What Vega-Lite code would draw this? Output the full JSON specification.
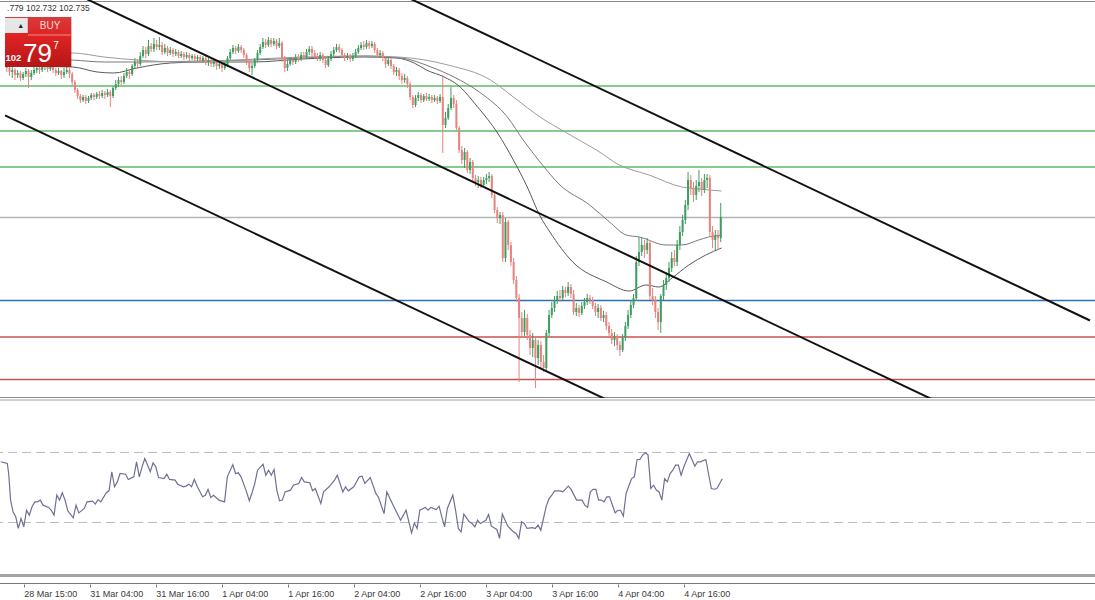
{
"$schema":"https://vega.github.io/schema/vega-lite/v6.json",
"padding":0,
"spacing":0,
"background":"white",
"config":{"view":{"stroke":null}},
"resolve":{"scale":{"x":"independent","y":"independent"}},
"datasets":{
"candles":[
{"t":-8,"o":104.26,"h":104.30,"l":104.18,"c":104.22},
{"t":-7,"o":104.22,"h":104.25,"l":104.14,"c":104.18},
{"t":-6,"o":104.18,"h":104.24,"l":104.12,"c":104.20},
{"t":-5,"o":104.20,"h":104.22,"l":104.10,"c":104.15},
{"t":-4,"o":104.15,"h":104.20,"l":104.12,"c":104.17},
{"t":-3,"o":104.17,"h":104.19,"l":104.09,"c":104.12},
{"t":-2,"o":104.12,"h":104.18,"l":104.10,"c":104.16},
{"t":-1,"o":104.16,"h":104.22,"l":104.13,"c":104.19},
{"t":0,"o":104.19,"h":104.21,"l":104.02,"c":104.13},
{"t":1,"o":104.13,"h":104.20,"l":104.10,"c":104.17},
{"t":2,"o":104.17,"h":104.24,"l":104.15,"c":104.20},
{"t":3,"o":104.20,"h":104.26,"l":104.17,"c":104.22},
{"t":4,"o":104.22,"h":104.25,"l":104.16,"c":104.20},
{"t":5,"o":104.20,"h":104.27,"l":104.18,"c":104.23},
{"t":6,"o":104.23,"h":104.28,"l":104.20,"c":104.24},
{"t":7,"o":104.24,"h":104.26,"l":104.18,"c":104.21},
{"t":8,"o":104.21,"h":104.26,"l":104.19,"c":104.23},
{"t":9,"o":104.23,"h":104.25,"l":104.17,"c":104.20},
{"t":10,"o":104.20,"h":104.22,"l":104.14,"c":104.17},
{"t":11,"o":104.17,"h":104.22,"l":104.15,"c":104.19},
{"t":12,"o":104.19,"h":104.20,"l":104.11,"c":104.15},
{"t":13,"o":104.15,"h":104.22,"l":104.12,"c":104.18},
{"t":14,"o":104.18,"h":104.24,"l":104.16,"c":104.20},
{"t":15,"o":104.20,"h":104.22,"l":104.12,"c":104.16},
{"t":16,"o":104.16,"h":104.18,"l":104.05,"c":104.08},
{"t":17,"o":104.08,"h":104.10,"l":103.97,"c":104.00},
{"t":18,"o":104.00,"h":104.02,"l":103.91,"c":103.94},
{"t":19,"o":103.94,"h":103.96,"l":103.87,"c":103.90},
{"t":20,"o":103.90,"h":103.95,"l":103.88,"c":103.93},
{"t":21,"o":103.93,"h":103.95,"l":103.86,"c":103.89},
{"t":22,"o":103.89,"h":103.94,"l":103.87,"c":103.92},
{"t":23,"o":103.92,"h":103.97,"l":103.90,"c":103.95},
{"t":24,"o":103.95,"h":103.97,"l":103.90,"c":103.93},
{"t":25,"o":103.93,"h":103.98,"l":103.91,"c":103.96},
{"t":26,"o":103.96,"h":103.99,"l":103.91,"c":103.94},
{"t":27,"o":103.94,"h":104.00,"l":103.92,"c":103.97},
{"t":28,"o":103.97,"h":103.99,"l":103.91,"c":103.95},
{"t":29,"o":103.95,"h":104.01,"l":103.93,"c":103.98},
{"t":30,"o":103.98,"h":104.00,"l":103.83,"c":103.94},
{"t":31,"o":103.94,"h":104.04,"l":103.92,"c":104.02},
{"t":32,"o":104.02,"h":104.10,"l":104.00,"c":104.06},
{"t":33,"o":104.06,"h":104.13,"l":104.03,"c":104.10},
{"t":34,"o":104.10,"h":104.14,"l":104.05,"c":104.08},
{"t":35,"o":104.08,"h":104.17,"l":104.06,"c":104.14},
{"t":36,"o":104.14,"h":104.22,"l":104.12,"c":104.18},
{"t":37,"o":104.18,"h":104.21,"l":104.11,"c":104.16},
{"t":38,"o":104.16,"h":104.26,"l":104.14,"c":104.24},
{"t":39,"o":104.24,"h":104.32,"l":104.22,"c":104.28},
{"t":40,"o":104.28,"h":104.31,"l":104.21,"c":104.26},
{"t":41,"o":104.26,"h":104.38,"l":104.24,"c":104.34},
{"t":42,"o":104.34,"h":104.44,"l":104.32,"c":104.40},
{"t":43,"o":104.40,"h":104.43,"l":104.32,"c":104.36},
{"t":44,"o":104.36,"h":104.50,"l":104.34,"c":104.44},
{"t":45,"o":104.44,"h":104.47,"l":104.38,"c":104.41},
{"t":46,"o":104.41,"h":104.52,"l":104.38,"c":104.46},
{"t":47,"o":104.46,"h":104.50,"l":104.40,"c":104.43},
{"t":48,"o":104.43,"h":104.53,"l":104.40,"c":104.45},
{"t":49,"o":104.45,"h":104.48,"l":104.35,"c":104.38},
{"t":50,"o":104.38,"h":104.46,"l":104.36,"c":104.42},
{"t":51,"o":104.42,"h":104.44,"l":104.34,"c":104.37},
{"t":52,"o":104.37,"h":104.43,"l":104.35,"c":104.40},
{"t":53,"o":104.40,"h":104.42,"l":104.33,"c":104.36},
{"t":54,"o":104.36,"h":104.41,"l":104.34,"c":104.38},
{"t":55,"o":104.38,"h":104.40,"l":104.32,"c":104.34},
{"t":56,"o":104.34,"h":104.39,"l":104.32,"c":104.36},
{"t":57,"o":104.36,"h":104.38,"l":104.30,"c":104.33},
{"t":58,"o":104.33,"h":104.38,"l":104.31,"c":104.35},
{"t":59,"o":104.35,"h":104.37,"l":104.29,"c":104.32},
{"t":60,"o":104.32,"h":104.36,"l":104.30,"c":104.34},
{"t":61,"o":104.34,"h":104.36,"l":104.28,"c":104.31},
{"t":62,"o":104.31,"h":104.35,"l":104.29,"c":104.33},
{"t":63,"o":104.33,"h":104.35,"l":104.27,"c":104.29},
{"t":64,"o":104.29,"h":104.34,"l":104.27,"c":104.32},
{"t":65,"o":104.32,"h":104.34,"l":104.25,"c":104.28},
{"t":66,"o":104.28,"h":104.32,"l":104.24,"c":104.30},
{"t":67,"o":104.30,"h":104.32,"l":104.23,"c":104.26},
{"t":68,"o":104.26,"h":104.31,"l":104.23,"c":104.28},
{"t":69,"o":104.28,"h":104.30,"l":104.20,"c":104.24},
{"t":70,"o":104.24,"h":104.29,"l":104.21,"c":104.26},
{"t":71,"o":104.26,"h":104.28,"l":104.18,"c":104.22},
{"t":72,"o":104.22,"h":104.28,"l":104.20,"c":104.25},
{"t":73,"o":104.25,"h":104.34,"l":104.23,"c":104.32},
{"t":74,"o":104.32,"h":104.41,"l":104.30,"c":104.38},
{"t":75,"o":104.38,"h":104.45,"l":104.36,"c":104.42},
{"t":76,"o":104.42,"h":104.44,"l":104.36,"c":104.39},
{"t":77,"o":104.39,"h":104.46,"l":104.37,"c":104.43},
{"t":78,"o":104.43,"h":104.45,"l":104.37,"c":104.40},
{"t":79,"o":104.40,"h":104.42,"l":104.32,"c":104.35},
{"t":80,"o":104.35,"h":104.37,"l":104.25,"c":104.28},
{"t":81,"o":104.28,"h":104.30,"l":104.18,"c":104.22},
{"t":82,"o":104.22,"h":104.27,"l":104.15,"c":104.24},
{"t":83,"o":104.24,"h":104.32,"l":104.22,"c":104.30},
{"t":84,"o":104.30,"h":104.40,"l":104.28,"c":104.37},
{"t":85,"o":104.37,"h":104.46,"l":104.35,"c":104.43},
{"t":86,"o":104.43,"h":104.52,"l":104.41,"c":104.48},
{"t":87,"o":104.48,"h":104.51,"l":104.42,"c":104.45},
{"t":88,"o":104.45,"h":104.53,"l":104.43,"c":104.50},
{"t":89,"o":104.50,"h":104.52,"l":104.43,"c":104.46},
{"t":90,"o":104.46,"h":104.52,"l":104.44,"c":104.49},
{"t":91,"o":104.49,"h":104.51,"l":104.41,"c":104.44},
{"t":92,"o":104.44,"h":104.52,"l":104.42,"c":104.47},
{"t":93,"o":104.47,"h":104.49,"l":104.28,"c":104.32},
{"t":94,"o":104.32,"h":104.34,"l":104.18,"c":104.22},
{"t":95,"o":104.22,"h":104.30,"l":104.19,"c":104.26},
{"t":96,"o":104.26,"h":104.33,"l":104.24,"c":104.30},
{"t":97,"o":104.30,"h":104.33,"l":104.25,"c":104.28},
{"t":98,"o":104.28,"h":104.36,"l":104.26,"c":104.33},
{"t":99,"o":104.33,"h":104.36,"l":104.28,"c":104.31},
{"t":100,"o":104.31,"h":104.38,"l":104.29,"c":104.35},
{"t":101,"o":104.35,"h":104.38,"l":104.30,"c":104.33},
{"t":102,"o":104.33,"h":104.41,"l":104.31,"c":104.38},
{"t":103,"o":104.38,"h":104.44,"l":104.35,"c":104.41},
{"t":104,"o":104.41,"h":104.44,"l":104.34,"c":104.37},
{"t":105,"o":104.37,"h":104.40,"l":104.31,"c":104.34},
{"t":106,"o":104.34,"h":104.37,"l":104.29,"c":104.32},
{"t":107,"o":104.32,"h":104.38,"l":104.29,"c":104.35},
{"t":108,"o":104.35,"h":104.37,"l":104.27,"c":104.30},
{"t":109,"o":104.30,"h":104.33,"l":104.22,"c":104.25},
{"t":110,"o":104.25,"h":104.34,"l":104.23,"c":104.31},
{"t":111,"o":104.31,"h":104.39,"l":104.29,"c":104.36},
{"t":112,"o":104.36,"h":104.43,"l":104.34,"c":104.40},
{"t":113,"o":104.40,"h":104.46,"l":104.38,"c":104.43},
{"t":114,"o":104.43,"h":104.46,"l":104.37,"c":104.40},
{"t":115,"o":104.40,"h":104.42,"l":104.32,"c":104.35},
{"t":116,"o":104.35,"h":104.37,"l":104.29,"c":104.32},
{"t":117,"o":104.32,"h":104.37,"l":104.30,"c":104.34},
{"t":118,"o":104.34,"h":104.36,"l":104.28,"c":104.31},
{"t":119,"o":104.31,"h":104.37,"l":104.29,"c":104.34},
{"t":120,"o":104.34,"h":104.41,"l":104.32,"c":104.38},
{"t":121,"o":104.38,"h":104.45,"l":104.36,"c":104.42},
{"t":122,"o":104.42,"h":104.48,"l":104.40,"c":104.45},
{"t":123,"o":104.45,"h":104.49,"l":104.40,"c":104.43},
{"t":124,"o":104.43,"h":104.50,"l":104.41,"c":104.47},
{"t":125,"o":104.47,"h":104.49,"l":104.41,"c":104.44},
{"t":126,"o":104.44,"h":104.49,"l":104.42,"c":104.46},
{"t":127,"o":104.46,"h":104.48,"l":104.37,"c":104.40},
{"t":128,"o":104.40,"h":104.42,"l":104.32,"c":104.35},
{"t":129,"o":104.35,"h":104.40,"l":104.32,"c":104.37},
{"t":130,"o":104.37,"h":104.39,"l":104.29,"c":104.32},
{"t":131,"o":104.32,"h":104.34,"l":104.22,"c":104.26},
{"t":132,"o":104.26,"h":104.33,"l":104.24,"c":104.30},
{"t":133,"o":104.30,"h":104.32,"l":104.21,"c":104.24},
{"t":134,"o":104.24,"h":104.26,"l":104.15,"c":104.18},
{"t":135,"o":104.18,"h":104.23,"l":104.14,"c":104.20},
{"t":136,"o":104.20,"h":104.22,"l":104.10,"c":104.14},
{"t":137,"o":104.14,"h":104.17,"l":104.06,"c":104.10},
{"t":138,"o":104.10,"h":104.16,"l":104.07,"c":104.12},
{"t":139,"o":104.12,"h":104.14,"l":104.02,"c":104.06},
{"t":140,"o":104.06,"h":104.08,"l":103.90,"c":103.93},
{"t":141,"o":103.93,"h":103.95,"l":103.82,"c":103.85},
{"t":142,"o":103.85,"h":103.95,"l":103.83,"c":103.92},
{"t":143,"o":103.92,"h":103.98,"l":103.89,"c":103.95},
{"t":144,"o":103.95,"h":103.97,"l":103.87,"c":103.90},
{"t":145,"o":103.90,"h":103.96,"l":103.88,"c":103.94},
{"t":146,"o":103.94,"h":103.97,"l":103.89,"c":103.91},
{"t":147,"o":103.91,"h":103.96,"l":103.89,"c":103.93},
{"t":148,"o":103.93,"h":103.95,"l":103.87,"c":103.90},
{"t":149,"o":103.90,"h":103.95,"l":103.88,"c":103.92},
{"t":150,"o":103.92,"h":103.94,"l":103.86,"c":103.89},
{"t":151,"o":103.89,"h":103.96,"l":103.87,"c":103.93},
{"t":152,"o":103.93,"h":104.15,"l":103.37,"c":103.65},
{"t":153,"o":103.65,"h":103.78,"l":103.62,"c":103.72},
{"t":154,"o":103.72,"h":103.86,"l":103.70,"c":103.82},
{"t":155,"o":103.82,"h":104.03,"l":103.80,"c":103.92},
{"t":156,"o":103.92,"h":103.95,"l":103.82,"c":103.86},
{"t":157,"o":103.86,"h":103.90,"l":103.60,"c":103.62},
{"t":158,"o":103.62,"h":103.64,"l":103.37,"c":103.40},
{"t":159,"o":103.40,"h":103.44,"l":103.26,"c":103.30},
{"t":160,"o":103.30,"h":103.42,"l":103.22,"c":103.38},
{"t":161,"o":103.38,"h":103.40,"l":103.17,"c":103.20},
{"t":162,"o":103.20,"h":103.32,"l":103.16,"c":103.28},
{"t":163,"o":103.28,"h":103.30,"l":103.08,"c":103.12},
{"t":164,"o":103.12,"h":103.15,"l":103.04,"c":103.08},
{"t":165,"o":103.08,"h":103.14,"l":103.02,"c":103.10},
{"t":166,"o":103.10,"h":103.13,"l":103.02,"c":103.05},
{"t":167,"o":103.05,"h":103.13,"l":103.03,"c":103.10},
{"t":168,"o":103.10,"h":103.16,"l":103.06,"c":103.12},
{"t":169,"o":103.12,"h":103.18,"l":103.08,"c":103.14},
{"t":170,"o":103.14,"h":103.16,"l":102.92,"c":102.95},
{"t":171,"o":102.95,"h":102.97,"l":102.77,"c":102.80},
{"t":172,"o":102.80,"h":102.83,"l":102.67,"c":102.72},
{"t":173,"o":102.72,"h":102.78,"l":102.66,"c":102.75},
{"t":174,"o":102.75,"h":102.78,"l":102.28,"c":102.32},
{"t":175,"o":102.32,"h":102.72,"l":102.28,"c":102.68},
{"t":176,"o":102.68,"h":102.70,"l":102.40,"c":102.45},
{"t":177,"o":102.45,"h":102.48,"l":102.24,"c":102.28},
{"t":178,"o":102.28,"h":102.32,"l":102.06,"c":102.10},
{"t":179,"o":102.10,"h":102.14,"l":101.88,"c":101.92},
{"t":180,"o":101.92,"h":101.96,"l":101.08,"c":101.72},
{"t":181,"o":101.72,"h":101.78,"l":101.52,"c":101.58},
{"t":182,"o":101.58,"h":101.80,"l":101.54,"c":101.72},
{"t":183,"o":101.72,"h":101.76,"l":101.50,"c":101.55},
{"t":184,"o":101.55,"h":101.60,"l":101.35,"c":101.42},
{"t":185,"o":101.42,"h":101.57,"l":101.33,"c":101.50},
{"t":186,"o":101.50,"h":101.54,"l":101.02,"c":101.32},
{"t":187,"o":101.32,"h":101.50,"l":101.25,"c":101.45},
{"t":188,"o":101.45,"h":101.49,"l":101.22,"c":101.28},
{"t":189,"o":101.28,"h":101.35,"l":101.18,"c":101.22},
{"t":190,"o":101.22,"h":101.60,"l":101.18,"c":101.57},
{"t":191,"o":101.57,"h":101.80,"l":101.54,"c":101.75},
{"t":192,"o":101.75,"h":101.88,"l":101.72,"c":101.82},
{"t":193,"o":101.82,"h":101.94,"l":101.78,"c":101.90},
{"t":194,"o":101.90,"h":101.99,"l":101.86,"c":101.94},
{"t":195,"o":101.94,"h":102.00,"l":101.88,"c":101.92},
{"t":196,"o":101.92,"h":102.04,"l":101.90,"c":102.00},
{"t":197,"o":102.00,"h":102.03,"l":101.93,"c":101.97},
{"t":198,"o":101.97,"h":102.08,"l":101.94,"c":102.03},
{"t":199,"o":102.03,"h":102.06,"l":101.92,"c":101.96},
{"t":200,"o":101.96,"h":102.00,"l":101.75,"c":101.78},
{"t":201,"o":101.78,"h":101.87,"l":101.74,"c":101.82},
{"t":202,"o":101.82,"h":101.85,"l":101.73,"c":101.77},
{"t":203,"o":101.77,"h":101.88,"l":101.75,"c":101.84},
{"t":204,"o":101.84,"h":101.92,"l":101.81,"c":101.88},
{"t":205,"o":101.88,"h":101.96,"l":101.85,"c":101.92},
{"t":206,"o":101.92,"h":101.95,"l":101.86,"c":101.90},
{"t":207,"o":101.90,"h":101.93,"l":101.81,"c":101.84},
{"t":208,"o":101.84,"h":101.87,"l":101.74,"c":101.78},
{"t":209,"o":101.78,"h":101.86,"l":101.72,"c":101.82},
{"t":210,"o":101.82,"h":101.85,"l":101.69,"c":101.72},
{"t":211,"o":101.72,"h":101.79,"l":101.68,"c":101.75},
{"t":212,"o":101.75,"h":101.78,"l":101.60,"c":101.64},
{"t":213,"o":101.64,"h":101.68,"l":101.53,"c":101.57},
{"t":214,"o":101.57,"h":101.61,"l":101.46,"c":101.50},
{"t":215,"o":101.50,"h":101.58,"l":101.44,"c":101.53},
{"t":216,"o":101.53,"h":101.56,"l":101.40,"c":101.45},
{"t":217,"o":101.45,"h":101.49,"l":101.34,"c":101.40},
{"t":218,"o":101.40,"h":101.56,"l":101.38,"c":101.52},
{"t":219,"o":101.52,"h":101.68,"l":101.49,"c":101.64},
{"t":220,"o":101.64,"h":101.80,"l":101.61,"c":101.75},
{"t":221,"o":101.75,"h":101.90,"l":101.72,"c":101.85},
{"t":222,"o":101.85,"h":101.96,"l":101.82,"c":101.92},
{"t":223,"o":101.92,"h":102.34,"l":101.89,"c":102.28},
{"t":224,"o":102.28,"h":102.53,"l":102.24,"c":102.38},
{"t":225,"o":102.38,"h":102.52,"l":102.34,"c":102.45},
{"t":226,"o":102.45,"h":102.50,"l":102.32,"c":102.40},
{"t":227,"o":102.40,"h":102.52,"l":102.36,"c":102.47},
{"t":228,"o":102.47,"h":102.50,"l":101.90,"c":101.94},
{"t":229,"o":101.94,"h":102.02,"l":101.85,"c":101.90},
{"t":230,"o":101.90,"h":101.94,"l":101.72,"c":101.78},
{"t":231,"o":101.78,"h":101.82,"l":101.60,"c":101.68},
{"t":232,"o":101.68,"h":101.96,"l":101.57,"c":101.94},
{"t":233,"o":101.94,"h":102.10,"l":101.90,"c":102.05},
{"t":234,"o":102.05,"h":102.18,"l":102.00,"c":102.12},
{"t":235,"o":102.12,"h":102.28,"l":102.08,"c":102.22},
{"t":236,"o":102.22,"h":102.38,"l":102.18,"c":102.32},
{"t":237,"o":102.32,"h":102.40,"l":102.24,"c":102.28},
{"t":238,"o":102.28,"h":102.50,"l":102.24,"c":102.45},
{"t":239,"o":102.45,"h":102.64,"l":102.40,"c":102.58},
{"t":240,"o":102.58,"h":102.75,"l":102.54,"c":102.70},
{"t":241,"o":102.70,"h":102.90,"l":102.66,"c":102.85},
{"t":242,"o":102.85,"h":103.18,"l":102.80,"c":103.10},
{"t":243,"o":103.10,"h":103.15,"l":102.95,"c":103.02},
{"t":244,"o":103.02,"h":103.08,"l":102.88,"c":102.95},
{"t":245,"o":102.95,"h":103.10,"l":102.90,"c":103.04},
{"t":246,"o":103.04,"h":103.20,"l":102.98,"c":103.08},
{"t":247,"o":103.08,"h":103.12,"l":102.94,"c":103.00},
{"t":248,"o":103.00,"h":103.16,"l":102.97,"c":103.10},
{"t":249,"o":103.10,"h":103.16,"l":103.02,"c":103.12},
{"t":250,"o":103.12,"h":103.15,"l":102.53,"c":102.58},
{"t":251,"o":102.58,"h":102.64,"l":102.42,"c":102.50},
{"t":252,"o":102.50,"h":102.60,"l":102.40,"c":102.54},
{"t":253,"o":102.54,"h":102.60,"l":102.40,"c":102.52},
{"t":254,"o":102.52,"h":102.87,"l":102.48,"c":102.73}
],
"ma":[
{"m":"fast","t":-8.4,"p":104.24},{"m":"fast","t":16.1,"p":104.23},{"m":"fast","t":25.2,"p":104.18},{"m":"fast","t":31.3,"p":104.17},{"m":"fast","t":39.7,"p":104.22},{"m":"fast","t":52.1,"p":104.27},{"m":"fast","t":64.1,"p":104.28},{"m":"fast","t":82.3,"p":104.28},{"m":"fast","t":100.4,"p":104.31},{"m":"fast","t":123.0,"p":104.33},{"m":"fast","t":135.0,"p":104.32},{"m":"fast","t":141.5,"p":104.27},{"m":"fast","t":146.0,"p":104.20},{"m":"fast","t":152.5,"p":104.13},{"m":"fast","t":157.5,"p":104.05},{"m":"fast","t":164.8,"p":103.83},{"m":"fast","t":172.1,"p":103.57},{"m":"fast","t":177.9,"p":103.30},{"m":"fast","t":183.0,"p":103.03},{"m":"fast","t":187.7,"p":102.74},{"m":"fast","t":191.3,"p":102.58},{"m":"fast","t":199.7,"p":102.28},{"m":"fast","t":212.1,"p":102.08},{"m":"fast","t":220.4,"p":101.99},{"m":"fast","t":226.6,"p":102.05},{"m":"fast","t":231.3,"p":102.03},{"m":"fast","t":236.1,"p":102.12},{"m":"fast","t":242.3,"p":102.25},{"m":"fast","t":248.5,"p":102.35},{"m":"fast","t":254.3,"p":102.42},
{"m":"mid","t":-8.4,"p":104.32},{"m":"mid","t":16.1,"p":104.30},{"m":"mid","t":27.7,"p":104.28},{"m":"mid","t":39.7,"p":104.28},{"m":"mid","t":64.1,"p":104.29},{"m":"mid","t":82.3,"p":104.30},{"m":"mid","t":100.4,"p":104.32},{"m":"mid","t":123.0,"p":104.34},{"m":"mid","t":136.8,"p":104.32},{"m":"mid","t":147.7,"p":104.23},{"m":"mid","t":156.1,"p":104.13},{"m":"mid","t":165.9,"p":103.97},{"m":"mid","t":175.7,"p":103.73},{"m":"mid","t":181.5,"p":103.50},{"m":"mid","t":187.7,"p":103.28},{"m":"mid","t":195.0,"p":103.05},{"m":"mid","t":205.9,"p":102.85},{"m":"mid","t":213.2,"p":102.68},{"m":"mid","t":219.3,"p":102.55},{"m":"mid","t":224.1,"p":102.53},{"m":"mid","t":233.9,"p":102.45},{"m":"mid","t":239.7,"p":102.45},{"m":"mid","t":245.9,"p":102.50},{"m":"mid","t":249.5,"p":102.53},{"m":"mid","t":254.3,"p":102.55},
{"m":"slow","t":-8.4,"p":104.37},{"m":"slow","t":16.1,"p":104.37},{"m":"slow","t":27.7,"p":104.33},{"m":"slow","t":39.7,"p":104.30},{"m":"slow","t":57.9,"p":104.28},{"m":"slow","t":76.1,"p":104.30},{"m":"slow","t":100.4,"p":104.33},{"m":"slow","t":123.0,"p":104.34},{"m":"slow","t":135.7,"p":104.33},{"m":"slow","t":153.9,"p":104.25},{"m":"slow","t":169.5,"p":104.10},{"m":"slow","t":177.9,"p":103.93},{"m":"slow","t":187.7,"p":103.73},{"m":"slow","t":197.5,"p":103.57},{"m":"slow","t":208.4,"p":103.40},{"m":"slow","t":216.8,"p":103.25},{"m":"slow","t":227.7,"p":103.15},{"m":"slow","t":239.7,"p":103.03},{"m":"slow","t":245.9,"p":103.01},{"m":"slow","t":254.3,"p":102.99}
],
"levels":[
{"kind":"resistance","p":104.04},{"kind":"resistance","p":103.59},{"kind":"resistance","p":103.23},
{"kind":"price","p":102.725},{"kind":"pivot","p":101.895},
{"kind":"support","p":101.53},{"kind":"support","p":101.105}
],
"channel":[
{"line":"A","t":-8.65,"p":105.296},{"line":"A","t":389.5,"p":100.16},
{"line":"B","t":-8.65,"p":106.831},{"line":"B","t":389.5,"p":101.695},
{"line":"C","t":-8.65,"p":103.746},{"line":"C","t":389.5,"p":98.62}
],
"rsi":[
{"t":-8.4,"v":64.7},{"t":-6,"v":63.7},{"t":-5.5,"v":58.0},{"t":-4.8,"v":42.8},{"t":-3.9,"v":36.1},{"t":-2.9,"v":33.2},{"t":-2,"v":26.6},{"t":-1,"v":32.3},{"t":0,"v":27.5},{"t":1,"v":37.0},{"t":2,"v":34.2},{"t":3,"v":39.0},{"t":4,"v":41.8},{"t":5,"v":41.8},{"t":6,"v":42.8},{"t":7,"v":39.9},{"t":9,"v":38.6},{"t":10,"v":37.0},{"t":11,"v":34.2},{"t":12,"v":45.6},{"t":13,"v":42.8},{"t":14,"v":47.0},{"t":15,"v":42.8},{"t":16,"v":36.7},{"t":18,"v":32.7},{"t":19,"v":39.9},{"t":20,"v":35.5},{"t":22,"v":38.0},{"t":23,"v":41.8},{"t":25,"v":42.2},{"t":26,"v":40.5},{"t":27,"v":43.1},{"t":28,"v":41.8},{"t":30,"v":47.0},{"t":31,"v":48.1},{"t":32,"v":59.0},{"t":33,"v":50.4},{"t":34,"v":53.2},{"t":35,"v":58.0},{"t":37,"v":57.6},{"t":38,"v":54.6},{"t":40,"v":56.1},{"t":41,"v":64.7},{"t":42,"v":56.1},{"t":43,"v":61.8},{"t":44,"v":66.6},{"t":46,"v":59.0},{"t":47,"v":64.1},{"t":48,"v":61.8},{"t":49,"v":55.7},{"t":51,"v":55.1},{"t":52,"v":57.6},{"t":53,"v":54.6},{"t":55,"v":54.2},{"t":56,"v":51.9},{"t":58,"v":50.4},{"t":59,"v":50.8},{"t":60,"v":51.9},{"t":61,"v":50.4},{"t":62,"v":54.6},{"t":63,"v":50.8},{"t":65,"v":44.7},{"t":66,"v":45.6},{"t":67,"v":48.9},{"t":68,"v":44.3},{"t":69,"v":45.6},{"t":71,"v":42.8},{"t":73,"v":41.8},{"t":74,"v":56.1},{"t":76,"v":63.1},{"t":77,"v":58.0},{"t":78,"v":58.4},{"t":79,"v":56.1},{"t":81,"v":47.5},{"t":82,"v":42.4},{"t":83,"v":47.0},{"t":84,"v":52.3},{"t":85,"v":59.9},{"t":87,"v":63.3},{"t":88,"v":57.0},{"t":89,"v":59.9},{"t":90,"v":57.0},{"t":91,"v":60.3},{"t":92,"v":48.5},{"t":93,"v":42.4},{"t":94,"v":42.8},{"t":95,"v":47.5},{"t":97,"v":48.5},{"t":98,"v":51.3},{"t":100,"v":52.3},{"t":101,"v":55.7},{"t":102,"v":53.2},{"t":104,"v":52.7},{"t":105,"v":48.1},{"t":106,"v":49.4},{"t":108,"v":40.9},{"t":109,"v":47.5},{"t":111,"v":50.4},{"t":113,"v":54.2},{"t":114,"v":57.0},{"t":116,"v":47.5},{"t":117,"v":50.4},{"t":118,"v":48.1},{"t":120,"v":50.4},{"t":122,"v":56.1},{"t":123,"v":56.5},{"t":124,"v":52.3},{"t":126,"v":55.7},{"t":128,"v":46.6},{"t":129,"v":44.3},{"t":131,"v":35.1},{"t":132,"v":47.5},{"t":134,"v":40.9},{"t":137,"v":31.3},{"t":139,"v":37.0},{"t":141,"v":24.1},{"t":142,"v":29.8},{"t":143,"v":26.6},{"t":144,"v":37.0},{"t":146,"v":38.6},{"t":147,"v":37.0},{"t":148,"v":38.6},{"t":150,"v":37.4},{"t":151,"v":39.3},{"t":152,"v":33.2},{"t":153,"v":27.5},{"t":154,"v":38.0},{"t":156,"v":45.6},{"t":157,"v":37.0},{"t":158,"v":26.6},{"t":159,"v":24.7},{"t":160,"v":34.8},{"t":162,"v":30.4},{"t":163,"v":29.4},{"t":164,"v":27.5},{"t":165,"v":31.3},{"t":166,"v":29.4},{"t":168,"v":31.3},{"t":169,"v":34.6},{"t":170,"v":27.9},{"t":172,"v":26.0},{"t":173,"v":20.9},{"t":174,"v":34.8},{"t":175,"v":31.3},{"t":176,"v":27.9},{"t":178,"v":24.7},{"t":179,"v":23.7},{"t":180,"v":20.9},{"t":181,"v":30.4},{"t":182,"v":29.4},{"t":183,"v":26.6},{"t":185,"v":27.1},{"t":186,"v":26.6},{"t":187,"v":28.5},{"t":188,"v":25.6},{"t":190,"v":39.5},{"t":191,"v":43.7},{"t":192,"v":45.6},{"t":193,"v":48.1},{"t":195,"v":48.1},{"t":196,"v":47.5},{"t":198,"v":50.8},{"t":199,"v":48.9},{"t":201,"v":42.8},{"t":203,"v":42.8},{"t":204,"v":39.9},{"t":205,"v":38.6},{"t":206,"v":47.5},{"t":207,"v":48.9},{"t":208,"v":48.9},{"t":209,"v":42.8},{"t":210,"v":42.8},{"t":211,"v":41.8},{"t":212,"v":44.7},{"t":213,"v":44.7},{"t":215,"v":35.5},{"t":216,"v":37.0},{"t":217,"v":37.0},{"t":218,"v":33.6},{"t":219,"v":46.6},{"t":221,"v":55.1},{"t":222,"v":56.1},{"t":223,"v":66.0},{"t":224,"v":66.0},{"t":225,"v":68.5},{"t":226,"v":69.8},{"t":227,"v":68.5},{"t":228,"v":49.4},{"t":229,"v":51.3},{"t":230,"v":48.5},{"t":231,"v":47.5},{"t":232,"v":42.8},{"t":233,"v":55.1},{"t":234,"v":53.2},{"t":235,"v":58.0},{"t":236,"v":59.9},{"t":237,"v":62.8},{"t":238,"v":62.8},{"t":239,"v":57.0},{"t":240,"v":61.8},{"t":242,"v":69.4},{"t":244,"v":62.2},{"t":245,"v":64.7},{"t":246,"v":64.7},{"t":248,"v":66.0},{"t":250,"v":49.4},{"t":251,"v":49.0},{"t":252,"v":49.4},{"t":254,"v":55.0}
]
},
"vconcat":[
{
"width":1095,"height":398,
"resolve":{"scale":{"color":"independent"}},
"layer":[
{"data":{"name":"levels"},"mark":{"type":"rule","strokeWidth":1.3,"clip":true},
 "encoding":{
  "y":{"field":"p","type":"quantitative","scale":{"domain":[100.92,104.90],"nice":false,"zero":false},"axis":null},
  "color":{"field":"kind","type":"nominal","scale":{"domain":["resistance","price","pivot","support"],"range":["#5fba6a","#b5b5b5","#2f6fad","#c8504f"]},"legend":null}}},
{"data":{"values":[{"p":104.885,"edge":"top"},{"p":100.925,"edge":"bottom"}]},"mark":{"type":"rule","color":"#8a8a8a","strokeWidth":1,"clip":true},
 "encoding":{"y":{"field":"p","type":"quantitative","axis":null}}},
{"data":{"name":"ma"},"mark":{"type":"line","strokeWidth":1,"interpolate":"monotone","clip":true},
 "encoding":{
  "x":{"field":"t","type":"quantitative","scale":{"domain":[-8.65,389.5],"nice":false,"zero":false},"axis":null},
  "y":{"field":"p","type":"quantitative","axis":null},
  "color":{"field":"m","type":"nominal","scale":{"domain":["fast","mid","slow"],"range":["#5a5a5a","#7a7a7a","#9c9c9c"]},"legend":null}}},
{"data":{"name":"candles"},"mark":{"type":"rule","strokeWidth":1,"clip":true},
 "encoding":{
  "x":{"field":"t","type":"quantitative","axis":null},
  "y":{"field":"l","type":"quantitative","axis":null},"y2":{"field":"h"},
  "color":{"condition":{"test":"datum.c >= datum.o","value":"#3d9e5f"},"value":"#e8827e"}}},
{"data":{"name":"candles"},"mark":{"type":"bar","width":2,"clip":true},
 "encoding":{
  "x":{"field":"t","type":"quantitative","axis":null},
  "y":{"field":"o","type":"quantitative","axis":null},"y2":{"field":"c"},
  "color":{"condition":{"test":"datum.c >= datum.o","value":"#3d9e5f"},"value":"#e8827e"}}},
{"data":{"name":"channel"},"mark":{"type":"line","color":"#111111","strokeWidth":2,"clip":true},
 "encoding":{
  "x":{"field":"t","type":"quantitative","axis":null},
  "y":{"field":"p","type":"quantitative","axis":null},
  "detail":{"field":"line"}}},
{"data":{"values":[{"t1":-8.65,"t2":15.7,"p1":104.73,"p2":104.23}]},
 "mark":{"type":"rect","clip":true,"fill":{"gradient":"linear","x1":0,"y1":0,"x2":0,"y2":1,"stops":[{"offset":0,"color":"#d63c3c"},{"offset":0.35,"color":"#e02424"},{"offset":1,"color":"#b51616"}]}},
 "encoding":{"x":{"field":"t1","type":"quantitative","axis":null},"x2":{"field":"t2"},"y":{"field":"p1","type":"quantitative","axis":null},"y2":{"field":"p2"}}},
{"data":{"values":[{"t1":-0.2,"t2":15.7,"p":104.55}]},"mark":{"type":"rule","color":"#ec8a8a","strokeWidth":1,"clip":true},
 "encoding":{"x":{"field":"t1","type":"quantitative","axis":null},"x2":{"field":"t2"},"y":{"field":"p","type":"quantitative","axis":null}}},
{"data":{"values":[{"t1":-8.65,"t2":-0.3,"p1":104.72,"p2":104.57}]},
 "mark":{"type":"rect","fill":"#e6e6e6","clip":true},
 "encoding":{"x":{"field":"t1","type":"quantitative","axis":null},"x2":{"field":"t2"},"y":{"field":"p1","type":"quantitative","axis":null},"y2":{"field":"p2"}}},
{"data":{"values":[{"t":-2.84,"p":104.645,"label":"▲"}]},
 "mark":{"type":"text","fontSize":7,"color":"#222222","align":"center","baseline":"middle","clip":true},
 "encoding":{"x":{"field":"t","type":"quantitative","axis":null},"y":{"field":"p","type":"quantitative","axis":null},"text":{"field":"label"}}},
{"data":{"values":[{"t":7.9,"p":104.64,"label":"BUY"}]},
 "mark":{"type":"text","fontSize":10,"font":"Liberation Sans","color":"#f7d8d8","align":"center","baseline":"middle","clip":true},
 "encoding":{"x":{"field":"t","type":"quantitative","axis":null},"y":{"field":"p","type":"quantitative","axis":null},"text":{"field":"label"}}},
{"data":{"values":[{"t":3.3,"p":104.28,"label":"79"}]},
 "mark":{"type":"text","fontSize":26,"font":"Liberation Sans","color":"#ffffff","align":"center","baseline":"alphabetic","clip":true},
 "encoding":{"x":{"field":"t","type":"quantitative","axis":null},"y":{"field":"p","type":"quantitative","axis":null},"text":{"field":"label"}}},
{"data":{"values":[{"t":10.1,"p":104.44,"label":"7"}]},
 "mark":{"type":"text","fontSize":10,"font":"Liberation Sans","color":"#ffffff","align":"center","baseline":"middle","clip":true},
 "encoding":{"x":{"field":"t","type":"quantitative","axis":null},"y":{"field":"p","type":"quantitative","axis":null},"text":{"field":"label"}}},
{"data":{"values":[{"t":-8.45,"p":104.29,"label":"102"}]},
 "mark":{"type":"text","fontSize":9.5,"font":"Liberation Sans","fontWeight":"bold","color":"#ffffff","align":"left","baseline":"alphabetic","clip":true},
 "encoding":{"x":{"field":"t","type":"quantitative","axis":null},"y":{"field":"p","type":"quantitative","axis":null},"text":{"field":"label"}}},
{"data":{"values":[{"t":-7.9,"p":104.82,"label":".779 102.732 102.735"}]},
 "mark":{"type":"text","fontSize":8.5,"font":"Liberation Sans","color":"#333333","align":"left","baseline":"middle","clip":true},
 "encoding":{"x":{"field":"t","type":"quantitative","axis":null},"y":{"field":"p","type":"quantitative","axis":null},"text":{"field":"label"}}}
]
},
{
"width":1095,"height":186,
"layer":[
{"data":{"values":[{"v":70},{"v":30}]},"mark":{"type":"rule","color":"#bcbcc6","strokeWidth":1,"strokeDash":[9,5],"clip":true},
 "encoding":{"y":{"field":"v","type":"quantitative","scale":{"domain":[-5.143,101.143],"nice":false,"zero":false},"axis":null}}},
{"data":{"values":[{"v":100}]},"mark":{"type":"rule","color":"#a0a0a0","strokeWidth":1,"clip":true},
 "encoding":{"y":{"field":"v","type":"quantitative","axis":null}}},
{"data":{"values":[{"v":-0.286}]},"mark":{"type":"rule","color":"#a3a3a3","strokeWidth":3,"clip":true},
 "encoding":{"y":{"field":"v","type":"quantitative","axis":null}}},
{"data":{"values":[{"v":-4.857}]},"mark":{"type":"rule","color":"#7a7a7a","strokeWidth":1,"clip":true},
 "encoding":{"y":{"field":"v","type":"quantitative","axis":null}}},
{"data":{"name":"rsi"},"mark":{"type":"line","color":"#6f7096","strokeWidth":1.2,"clip":true},
 "encoding":{
  "x":{"field":"t","type":"quantitative","scale":{"domain":[-8.65,389.5],"nice":false,"zero":false},
   "axis":{"values":[0,24,48,72,96,120,144,168,192,216,240],
    "labelExpr":"['28 Mar 15:00','31 Mar 04:00','31 Mar 16:00','1 Apr 04:00','1 Apr 16:00','2 Apr 04:00','2 Apr 16:00','3 Apr 04:00','3 Apr 16:00','4 Apr 04:00','4 Apr 16:00'][datum.value/24]",
    "title":null,"grid":false,"domain":false,"offset":0,"tickColor":"#7a7a7a","tickSize":3,
    "labelColor":"#3a3a3a","labelFont":"Liberation Sans","labelFontSize":9,"labelAlign":"left","labelBaseline":"top",
    "labelPadding":2,"labelDx":1,"labelOverlap":false,"labelFlush":false,"labelBound":false}},
  "y":{"field":"v","type":"quantitative","axis":null}}}
]
}
]
}
